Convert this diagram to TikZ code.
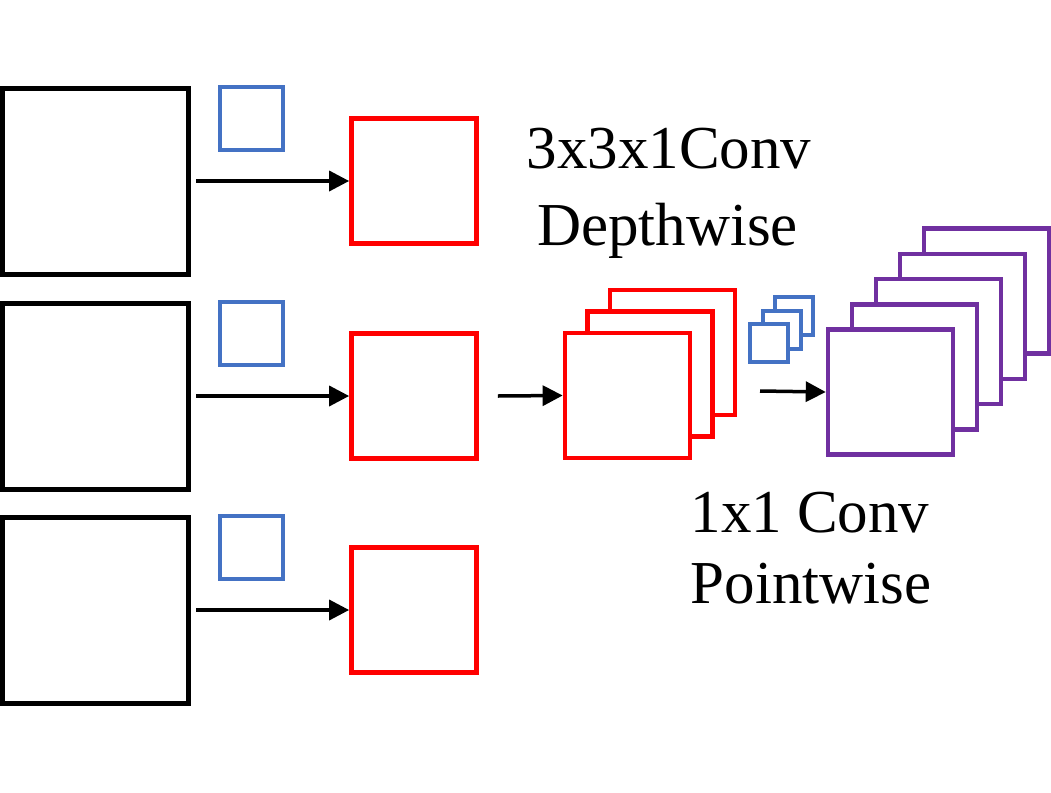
\documentclass[tikz,border=0pt]{standalone}
\usepackage{fontspec}
\setmainfont{Liberation Serif}
\usepackage{tikz}
\usetikzlibrary{arrows.meta}
\definecolor{kblue}{HTML}{4472C4}
\definecolor{ppurple}{HTML}{7030A0}

\begin{document}
\begin{tikzpicture}[x=1pt,y=-1pt,
    inmap/.style={draw=black,line width=5pt,minimum size=186pt,inner sep=0pt},
    dwmap/.style={draw=red,line width=4.7pt,minimum size=125pt,inner sep=0pt,fill=white},
    kern/.style={draw=kblue,line width=4.3pt,minimum size=63pt,inner sep=0pt,fill=white},
    pwmap/.style={draw=ppurple,line width=4.5pt,minimum size=125pt,inner sep=0pt,fill=white},
    lbl/.style={font=\fontsize{61}{61}\selectfont,anchor=base,inner sep=0pt},
    flow/.style={-{Triangle[length=20pt,width=20pt]},line width=3.5pt}]
          \useasboundingbox (0,0) rectangle (1051,792);
          % one input channel per row
          \foreach \r/\y in {1/181,2/396,3/610} {
            \node[inmap] (in\r) at (95.5,\y) {};
            \node[kern] (k\r) at (251.5,\y-62.5) {};
            \node[dwmap] (d\r) at (414,\y) {};
            \draw[flow] ([xshift=5pt]in\r.east) -- (d\r.west);
          }
          % stacked depthwise outputs
          \foreach \i in {3,2,1}
            \node[dwmap] (ds\i) at (627.5+22.5*\i-22.5,395.5-21.5*\i+21.5) {};
          \draw[flow] ([xshift=19pt]d2.east) -- (ds1.west);
          % 1x1 kernels
          \foreach \i in {3,2,1}
            \node[kern,minimum size=38pt,line width=4pt] (pk\i) at (769+12.5*\i-12.5,343-13.5*\i+13.5) {};
          % pointwise outputs
          \foreach \i in {5,4,3,2,1}
            \node[pwmap] (pw\i) at (890.5+24*\i-24,392-25.25*\i+25.25) {};
          \coordinate (pwin) at (760,391);
          \draw[flow] (pwin) -- (pw1.west);
          \node[lbl] (dwtop) at (669,168) {3x3x1Conv};
          \node[lbl] (dwbot) at (667.5,245) {Depthwise};
          \node[lbl] (pwtop) at (810,532) {1x1 Conv};
          \node[lbl] (pwbot) at (811,603) {Pointwise};
        \end{tikzpicture}
\end{document}
